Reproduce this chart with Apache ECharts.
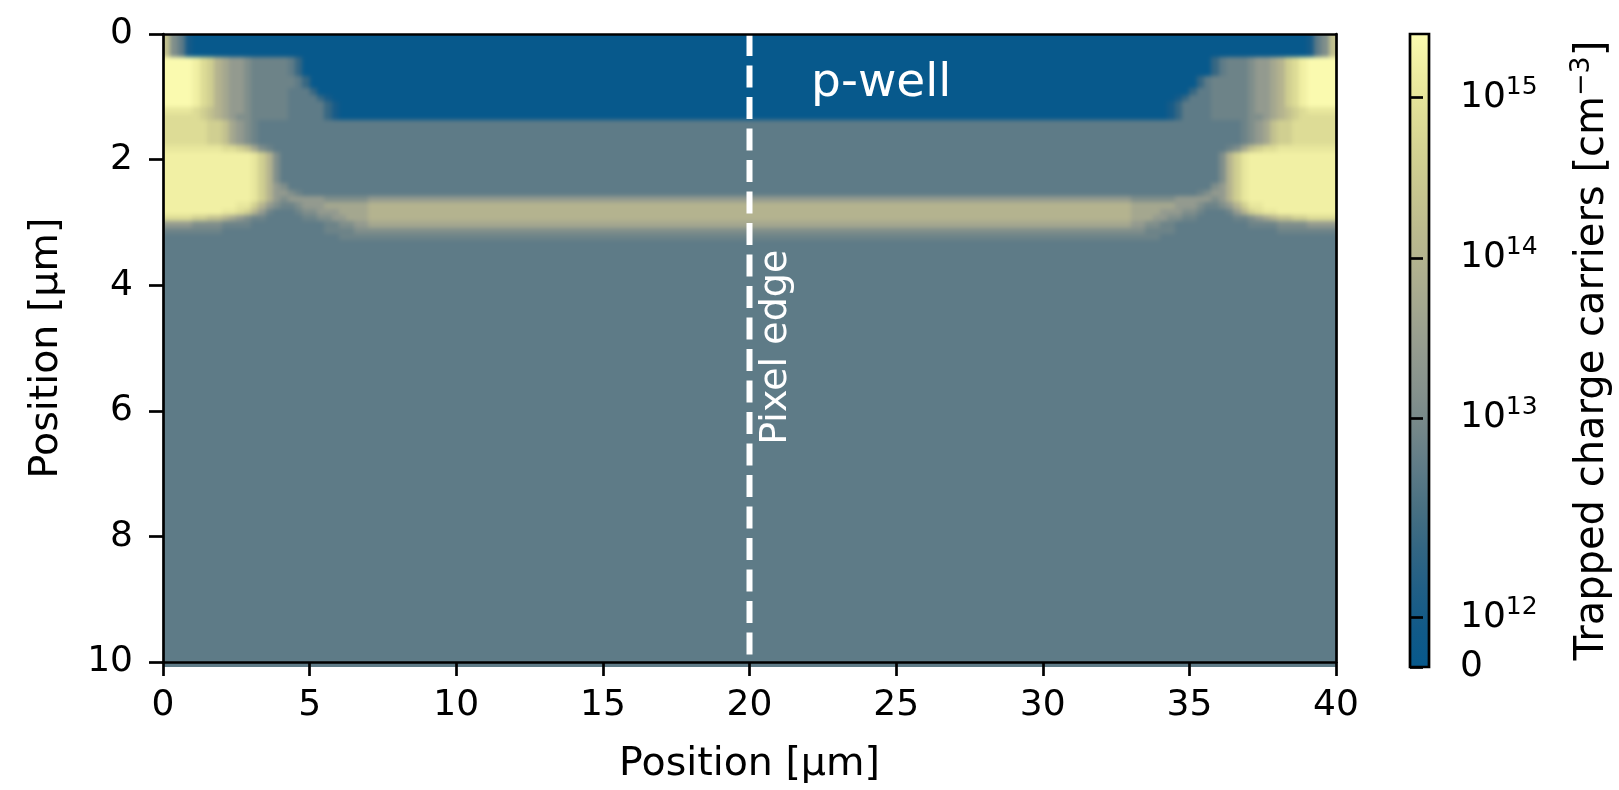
<!DOCTYPE html>
<html>
<head>
<meta charset="utf-8">
<script src="https://cdn.jsdelivr.net/npm/echarts@6/dist/echarts.min.js"></script>
<style>
  html, body { margin: 0; padding: 0; background: #ffffff; }
  #wrap { position: relative; width: 1619px; height: 790px; background: #ffffff; }
  #fieldClip { position: absolute; left: 163px; top: 34px; width: 1173px; height: 633px; overflow: hidden; }
  #field { position: absolute; left: -163px; top: -34px; width: 1619px; height: 790px; filter: blur(2px); }
  #chart { position: absolute; left: 0; top: 0; width: 1619px; height: 790px; }
</style>
</head>
<body>
<div id="wrap">
  <div id="fieldClip"><div id="field"></div></div>
  <div id="chart"></div>
</div>
<script>
// ---- density levels (cm^-3) used by the cross-section map ----
const levelCodes  = ['0', '1', '2', '3', '4', '5', '6', '7', '8', '9', 'A', 'B', 'C', 'D', 'E'];
const levelValues = [0, 1.0e12, 2.5e12, 4.8e12, 7e12, 1.2e13, 2.5e13, 5e13, 1e14, 2e14, 4e14, 7e14, 1.1e15, 1.6e15, 2.4e15];

// depth boundaries of the map rows (µm)
const yEdges = [0, 0.18, 0.36, 0.46, 0.56, 0.66, 0.76, 0.86, 0.96, 1.06, 1.16, 1.26, 1.36,
  1.46, 1.56, 1.66, 1.76, 1.86, 1.96, 2.06, 2.16, 2.26, 2.36, 2.46, 2.56, 2.66, 2.76,
  2.86, 2.96, 3.06, 3.16, 3.26, 3.36, 10];

// lateral layout (µm): 32 cells of 0.25 µm at each border, one uniform span in between
const edgeCellWidth = 0.25;
const edgeCellCount = 32;
const xMin = 0, xMax = 40;
const yMin = 0, yMax = 10;

// left border cells, from x = 0 towards the centre ("code*count")
const leftRows = [
  '9 5 3 1 0*28',
  '9 5 3 1 0*28',
  'E*4 D B A 8 7 6*2 5 4*5 3 2 0*13',
  'E*4 D B A 8 7 6*2 5 4*5 3 2 0*13',
  'E*4 D B A 8 7 6*2 5 4*5 3 2 0*13',
  'E*4 D B A 8 7 6*2 5 4*6 3 2 0*12',
  'E*4 D B A 8 7 6*2 5 4*6 3 2 0*12',
  'E*4 D B A 8 7 6*2 5 4*5 3*3 2 0*11',
  'E*4 D B A 8 7 6*2 5 4*5 3*4 2 1 0*9',
  'E*4 D B A 8 7 6*2 5 4*5 3*5 2 1 0*8',
  'C*4 B A 9 8 7 6*2 5 4*5 3*5 2 1 0*8',
  'B*5 A 9 8 7 6 5*2 4*5 3*5 2 1 0*8',
  'B*6 A*2 9 7 6 5 4 3*19',
  'B*6 A*2 9 7 6 5 4 3*19',
  'B*6 A*2 9 7 6 5 4 3*19',
  'B*6 A*2 9 7 6 5 4 3*19',
  'C*8 B*2 A 9 7 5 4 3*17',
  'D*12 C A 8 5 3*16',
  'D*12 C A 8 5 3*16',
  'D*12 C A 8 5 3*16',
  'D*12 C A 8 5 3*16',
  'D*12 C A 8 5 3*16',
  'D*12 C A 8 6 5 3*15',
  'D*12 C A 8 6 6 5 4 3*13',
  'D*12 C A 8 6 5 6*5 5*6 6*4',
  'D*10 C*2 A 8 6 5 4*2 5 6*3 7*6 8*4',
  'D*8 C*2 B A 8 6 4 3*3 4 5*2 6*3 7*4 8*4',
  'B*4 A*2 9*2 8 7 6 5 4*2 3*5 4*2 5*2 6*2 7*3 8*4',
  '6*4 5*4 4*4 3*10 4*2 5*2 6*2 7*4',
  '4*8 3*14 4*4 5*6',
  '3*24 4*8',
  '3*32',
  '3*32'
];

// central span (8 µm to 32 µm), one code per row
const midRows = ['0', '0',
  '0', '0', '0', '0', '0', '0', '0', '0', '0', '0',
  '3', '3', '3', '3', '3', '3', '3', '3', '3', '3', '3', '3',
  '6', '8', '8', '8', '7', '5', '4', '3', '3'];

// right border cells, from x = 40 towards the centre
const rightRows = [
  '9 5 3 1 0*28',
  '9 5 3 1 0*28',
  'E*4 D B A 8 7 6*2 5 4*3 3 2 0*15',
  'E*4 D B A 8 7 6*2 5 4*3 3 2 0*15',
  'E*4 D B A 8 7 6*2 5 4*3 3 2 0*15',
  'E*4 D B A 8 7 6*2 5 4*5 3 2 0*13',
  'E*4 D B A 8 7 6*2 5 4*5 3 2 0*13',
  'E*4 D B A 8 7 6*2 5 4*5 3*2 2 0*12',
  'E*4 D B A 8 7 6*2 5 4*5 3*3 2 1 0*10',
  'E*4 D B A 8 7 6*2 5 4*5 3*4 2 1 0*9',
  'C*4 B A 9 8 7 6*2 5 4*5 3*4 2 1 0*9',
  'B*5 A 9 8 7 6 5*2 4*5 3*4 2 1 0*9',
  'B*6 A*2 9 7 6 5 4 3*19',
  'B*6 A*2 9 7 6 5 4 3*19',
  'B*6 A*2 9 7 6 5 4 3*19',
  'B*6 A*2 9 7 6 5 4 3*19',
  'C*8 B*2 A 9 7 5 4 3*17',
  'D*12 C A 8 5 3*16',
  'D*12 C A 8 5 3*16',
  'D*12 C A 8 5 3*16',
  'D*12 C A 8 5 3*16',
  'D*12 C A 8 5 3*16',
  'D*12 C A 8 6 5 3*15',
  'D*12 C A 8 6 6 5 4 3*13',
  'D*12 C A 8 6 5 6*5 5*6 6*4',
  'D*10 C*2 A 8 6 5 4*2 5 6*3 7*6 8*4',
  'D*8 C*2 B A 8 6 4 3*3 4 5*2 6*3 7*4 8*4',
  'B*4 A*2 9*2 8 7 6 5 4*2 3*5 4*2 5*2 6*2 7*3 8*4',
  '6*4 5*4 4*4 3*10 4*2 5*2 6*2 7*4',
  '4*8 3*14 4*4 5*6',
  '3*24 4*8',
  '3*32',
  '3*32'
];

// colour scale: symmetric-log normalisation
const LINTHRESH = 3.6e12;
const LINSCALE = 1.0;
const VMAX = 2.5e15;
const cmapColors = ['#07598c', '#125a88', '#215f86', '#336683', '#487082', '#5e7b87',
  '#748789', '#86928d', '#949b8f', '#a2a68f', '#b0b08f', '#bbba8e', '#c7c68f',
  '#d3d292', '#e0df97', '#eeeda1', '#fbfbb0'];

const cbTickValues = [0, 1e12, 1e13, 1e14, 1e15];
const cbTickExponents = [null, 12, 13, 14, 15];

const xTickStep = 5;
const yTickStep = 2;
const pixelEdgeX = 20;
const annotations = [
  { text: 'p-well', at: [22.1, 0.79], size: 47, rotate: 0 },
  { text: 'Pixel edge', at: [20.92, 6.54], size: 38, rotate: Math.PI / 2 }
];

// ---- helpers ----
const linAdj = LINSCALE / (1 - 1 / 10);
function symlog(v) {
  return v <= LINTHRESH ? (v / LINTHRESH) * linAdj : linAdj + Math.log10(v / LINTHRESH);
}
const TMAX = symlog(VMAX);

function expandRow(row) {
  const out = [];
  row.trim().split(/\s+/).forEach(tok => {
    const parts = tok.split('*');
    const n = parts.length > 1 ? parseInt(parts[1], 10) : 1;
    for (let i = 0; i < n; i++) out.push(parts[0]);
  });
  return out;
}
function levelT(code) {
  return symlog(levelValues[levelCodes.indexOf(code)]);
}

// build rectangles [x0, x1, y0, y1, t] merging equal neighbours
const cells = [];
for (let r = 0; r < yEdges.length - 1; r++) {
  const y0 = yEdges[r], y1 = yEdges[r + 1];
  const left = expandRow(leftRows[r]);
  let start = 0;
  for (let c = 1; c <= left.length; c++) {
    if (c === left.length || left[c] !== left[start]) {
      cells.push([xMin + start * edgeCellWidth, xMin + c * edgeCellWidth, y0, y1, levelT(left[start])]);
      start = c;
    }
  }
  const midStart = xMin + edgeCellCount * edgeCellWidth;
  const midEnd = xMax - edgeCellCount * edgeCellWidth;
  cells.push([midStart, midEnd, y0, y1, levelT(midRows[r])]);
  const right = expandRow(rightRows[r]);
  start = 0;
  for (let c = 1; c <= right.length; c++) {
    if (c === right.length || right[c] !== right[start]) {
      cells.push([xMax - c * edgeCellWidth, xMax - start * edgeCellWidth, y0, y1, levelT(right[start])]);
      start = c;
    }
  }
}

const FONT = 'DejaVu Sans';
const AXIS_W = 2.7;
const cbTickT = cbTickValues.map(symlog);
const mainGrid = { left: 163, top: 34, width: 1173, height: 633, containLabel: false };
const BLEED = 8; // px the border cells reach past the frame, hidden by the clip box

// ---- density map (softened layer under the axes) ----
const field = echarts.init(document.getElementById('field'), null, { renderer: 'canvas' });
field.setOption({
  animation: false,
  grid: [mainGrid],
  visualMap: [{
    type: 'continuous', show: false, seriesIndex: 0, dimension: 4,
    min: 0, max: TMAX, inRange: { color: cmapColors }
  }],
  xAxis: [{ type: 'value', min: xMin, max: xMax, show: false }],
  yAxis: [{ type: 'value', min: yMin, max: yMax, inverse: true, show: false }],
  series: [{
    type: 'custom', name: 'trapped', silent: true, clip: false,
    dimensions: ['x0', 'x1', 'y0', 'y1', 't'],
    encode: { x: [0, 1], y: [2, 3] },
    data: cells,
    renderItem: function (params, api) {
      const v0 = api.value(0), v1 = api.value(1), w0 = api.value(2), w1 = api.value(3);
      const a = api.coord([v0, w0]);
      const b = api.coord([v1, w1]);
      let x = Math.round(Math.min(a[0], b[0])), x2 = Math.round(Math.max(a[0], b[0]));
      let y = Math.round(Math.min(a[1], b[1])), y2 = Math.round(Math.max(a[1], b[1]));
      if (v0 === xMin) x -= BLEED;
      if (v1 === xMax) x2 += BLEED;
      if (w0 === yMin) y -= BLEED;
      if (w1 === yMax) y2 += BLEED;
      return { type: 'rect', shape: { x: x, y: y, width: x2 - x, height: y2 - y },
               style: { fill: api.visual('color') } };
    }
  }]
});

// ---- axes, colour bar and annotations ----
const chart = echarts.init(document.getElementById('chart'), null, { renderer: 'canvas' });

const option = {
  animation: false,
  backgroundColor: 'transparent',
  textStyle: { fontFamily: FONT },
  grid: [
    mainGrid,
    { left: 1410, top: 34, width: 32, height: 633, containLabel: false }
  ],
  xAxis: [
    {
      gridIndex: 0, type: 'value', position: 'bottom', min: xMin, max: xMax, interval: xTickStep, z: 10,
      axisLine: { show: true, onZero: false, lineStyle: { color: '#000', width: AXIS_W } },
      axisTick: { show: true, length: 14, lineStyle: { color: '#000', width: AXIS_W } },
      axisLabel: { fontSize: 36, color: '#000', margin: 26, fontFamily: FONT },
      splitLine: { show: false },
      name: 'Position [µm]', nameLocation: 'middle', nameGap: 83,
      nameTextStyle: { fontSize: 39.5, color: '#000', fontFamily: FONT }
    },
    {
      gridIndex: 0, type: 'value', position: 'top', min: xMin, max: xMax, z: 10,
      axisLine: { show: true, onZero: false, lineStyle: { color: '#000', width: AXIS_W } },
      axisTick: { show: false }, axisLabel: { show: false }, splitLine: { show: false }
    },
    { gridIndex: 1, type: 'value', min: 0, max: 1, show: false }
  ],
  yAxis: [
    {
      gridIndex: 0, type: 'value', position: 'left', inverse: true, min: yMin, max: yMax, interval: yTickStep, z: 10,
      axisLine: { show: true, onZero: false, lineStyle: { color: '#000', width: AXIS_W } },
      axisTick: { show: true, length: 14, lineStyle: { color: '#000', width: AXIS_W } },
      axisLabel: { fontSize: 36, color: '#000', margin: 30, fontFamily: FONT },
      splitLine: { show: false },
      name: 'Position [µm]', nameLocation: 'middle', nameGap: 96, nameRotate: 90,
      nameTextStyle: { fontSize: 39.5, color: '#000', fontFamily: FONT }
    },
    {
      gridIndex: 0, type: 'value', position: 'right', inverse: true, min: yMin, max: yMax, z: 10,
      axisLine: { show: true, onZero: false, lineStyle: { color: '#000', width: AXIS_W } },
      axisTick: { show: false }, axisLabel: { show: false }, splitLine: { show: false }
    },
    {
      gridIndex: 1, type: 'value', position: 'right', min: 0, max: TMAX, z: 10,
      axisLine: { show: false },
      axisTick: { show: true, customValues: cbTickT, length: 13, lineStyle: { color: '#000', width: AXIS_W } },
      axisLabel: {
        show: true, customValues: cbTickT, margin: 31, color: '#000', fontFamily: FONT,
        formatter: function (val) {
          let best = 0;
          cbTickT.forEach((t, i) => { if (Math.abs(t - val) < Math.abs(cbTickT[best] - val)) best = i; });
          const e = cbTickExponents[best];
          return e === null ? '{b|0}' : '{b|10}{s|' + e + '}';
        },
        rich: {
          b: { fontSize: 36, lineHeight: 46, color: '#000', fontFamily: FONT },
          s: { fontSize: 25, lineHeight: 24, color: '#000', fontFamily: FONT, verticalAlign: 'top' }
        }
      },
      splitLine: { show: false },
      name: 'Trapped charge carriers [cm{s|−3}]', nameLocation: 'middle', nameGap: 139, nameRotate: 90,
      nameTextStyle: {
        fontSize: 40, lineHeight: 50, color: '#000', fontFamily: FONT,
        rich: { s: { fontSize: 27, lineHeight: 26, color: '#000', fontFamily: FONT, verticalAlign: 'top' } }
      }
    }
  ],
  series: [
    {
      type: 'line', name: 'pixel edge', xAxisIndex: 0, yAxisIndex: 0, silent: true, z: 5,
      data: [[pixelEdgeX, yMin], [pixelEdgeX, yMax]],
      showSymbol: false, symbol: 'none',
      lineStyle: { color: '#ffffff', width: 6, type: [22, 9.5], cap: 'butt' }
    },
    {
      type: 'custom', name: 'colorbar', xAxisIndex: 2, yAxisIndex: 2, silent: true, z: 3,
      data: [[0, 1, 0, TMAX]],
      renderItem: function (params, api) {
        const a = api.coord([0, 0]);
        const b = api.coord([1, TMAX]);
        const x = Math.min(a[0], b[0]), y = Math.min(a[1], b[1]);
        const w = Math.abs(b[0] - a[0]), h = Math.abs(b[1] - a[1]);
        const stops = cmapColors.map((c, i) => ({ offset: i / (cmapColors.length - 1), color: c }));
        return {
          type: 'group',
          children: [
            { type: 'rect', shape: { x: x, y: y, width: w, height: h },
              style: { fill: new echarts.graphic.LinearGradient(0, 1, 0, 0, stops) } },
            { type: 'rect', shape: { x: x, y: y, width: w, height: h },
              style: { fill: 'none', stroke: '#000', lineWidth: AXIS_W } }
          ]
        };
      }
    }
  ]
};

chart.setOption(option);

// annotation texts placed through the data coordinate system
const graphics = annotations.map(a => {
  const p = chart.convertToPixel({ xAxisIndex: 0, yAxisIndex: 0 }, a.at);
  return {
    type: 'text', x: p[0], y: p[1], rotation: a.rotate, z: 20, silent: true,
    style: { text: a.text, fill: '#ffffff', fontSize: a.size, fontFamily: FONT,
             align: 'left', verticalAlign: 'middle' }
  };
});
chart.setOption({ graphic: graphics });
</script>
</body>
</html>
